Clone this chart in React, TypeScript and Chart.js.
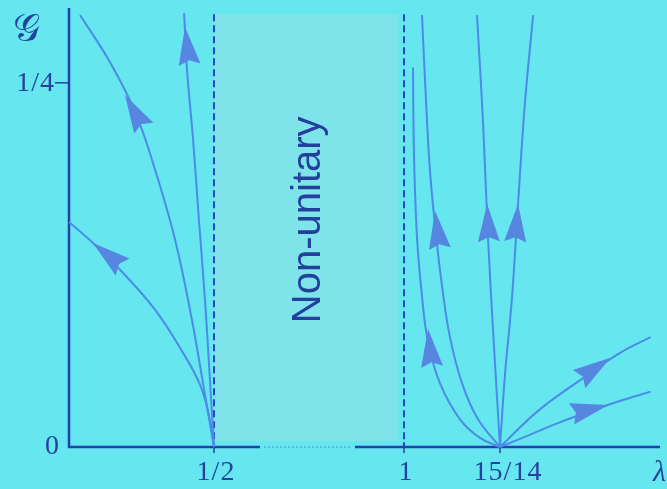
import React, { useEffect, useRef } from "react";
import { Chart, registerables } from "chart.js";
Chart.register(...registerables);

// ---- axis (broken, schematic lambda axis) ----
const lambdaBreaks = [0, 0.5, 1, 15 / 14, 1.19];
const axisUnits = [0, 145, 335, 431, 591];
const xTickValues = [0.5, 1, 15 / 14];
const xTickLabels = ["1/2", "1", "15/14"];
const yTickValues = [0, 0.25];
const yTickLabels = ["0", "1/4"];
const yMax = 0.3;

// ---- flow lines (lambda, G) ----
const curveA_l = [0.038, 0.141, 0.228, 0.297, 0.366, 0.424, 0.469, 0.5];
const curveA_g = [0.2966, 0.2643, 0.23, 0.1902, 0.1421, 0.0872, 0.0357, 0];
const curveB_l = [0.397, 0.407, 0.428, 0.448, 0.469, 0.486, 0.5];
const curveB_g = [0.298, 0.2588, 0.2108, 0.1558, 0.1009, 0.046, 0];
const curveC_l = [0, 0.0897, 0.193, 0.297, 0.383, 0.452, 0.486, 0.5];
const curveC_g = [0.1545, 0.1387, 0.1181, 0.0941, 0.068, 0.0426, 0.0185, 0];
const curveR1_l = [1.0067, 1.0074, 1.0097, 1.0134, 1.0179, 1.0268, 1.0417, 1.0565, 15 / 14];
const curveR1_g = [0.2606, 0.2021, 0.1437, 0.1035, 0.0718, 0.0437, 0.019, 0.0063, 0];
const curveR2_l = [1.0134, 1.0164, 1.0193, 1.0238, 1.0283, 1.0342, 1.0432, 1.0551, 15 / 14];
const curveR2_g = [0.2965, 0.2373, 0.1901, 0.1458, 0.1106, 0.0754, 0.0437, 0.019, 0];
const curveR3_l = [1.0543, 1.0588, 1.0625, 1.067, 15 / 14];
const curveR3_g = [0.2965, 0.2232, 0.1437, 0.0683, 0];
const curveR4_l = [1.096, 1.09, 1.0848, 1.0804, 1.0751, 15 / 14];
const curveR4_g = [0.2965, 0.2373, 0.1669, 0.1035, 0.0493, 0];
const curveR5_l = [15 / 14, 1.1012, 1.1384, 1.1607, 1.183];
const curveR5_g = [0, 0.026, 0.0507, 0.0648, 0.0754];
const curveR6_l = [15 / 14, 1.0938, 1.1138, 1.1384, 1.1607, 1.183];
const curveR6_g = [0, 0.0085, 0.0162, 0.0246, 0.0317, 0.038];

// ---- arrowheads: tip and tail (lambda, G) ----
const arrowTip_l = [0.193, 0.4, 0.0828, 1.0179, 1.0231, 1.0618, 1.0848, 1.1533, 1.1518];
const arrowTip_g = [0.2416, 0.2883, 0.14, 0.081, 0.162, 0.1669, 0.1669, 0.0613, 0.0289];
const arrowTail_l = [0.252, 0.417, 0.176, 1.0208, 1.0268, 1.0632, 1.0826, 1.131, 1.1235];
const arrowTail_g = [0.221, 0.2609, 0.125, 0.0556, 0.1352, 0.1401, 0.1401, 0.0472, 0.0225];

// dashed boundaries and shaded region
const boundaryLambdas = [0.5, 1];
const boundaryTopG = 0.297;
const nonUnitaryRange = [0.5, 0.985];
const axisSolidLeftEnd = 0.621;
const axisDottedRange = [0.632, 0.863];
const axisSolidRightStart = 0.871;

const BG = "#66e7f0";
const LINE = "#4a8ce6";
const ARROW = "#5686e0";
const AXIS = "#2342aa";
const TEXT = "#24429e";
const SERIF = "'Liberation Serif', 'DejaVu Serif', serif";

function lx(l: number): number {
  for (let i = 0; i < lambdaBreaks.length - 1; i++) {
    const a = lambdaBreaks[i], b = lambdaBreaks[i + 1];
    if (l <= b || i === lambdaBreaks.length - 2) {
      return axisUnits[i] + ((l - a) / (b - a)) * (axisUnits[i + 1] - axisUnits[i]);
    }
  }
  return 0;
}

const curves: [number[], number[]][] = [
  [curveA_l, curveA_g],
  [curveB_l, curveB_g],
  [curveC_l, curveC_g],
  [curveR1_l, curveR1_g],
  [curveR2_l, curveR2_g],
  [curveR3_l, curveR3_g],
  [curveR4_l, curveR4_g],
  [curveR5_l, curveR5_g],
  [curveR6_l, curveR6_g],
];

const decor = {
  id: "decor",
  beforeDraw(chart: any) {
    const ctx = chart.ctx;
    ctx.save();
    ctx.fillStyle = BG;
    ctx.fillRect(0, 0, chart.width, chart.height);
    const xs = chart.scales.x, ys = chart.scales.y;
    const X = (l: number) => xs.getPixelForValue(lx(l));
    const Y = (g: number) => ys.getPixelForValue(g);
    ctx.fillStyle = "#7fe3ea";
    ctx.fillRect(X(nonUnitaryRange[0]), Y(boundaryTopG), X(nonUnitaryRange[1]) - X(nonUnitaryRange[0]), Y(0.004) - Y(boundaryTopG));
    ctx.restore();
  },
  beforeDatasetsDraw(chart: any) {
    const ctx = chart.ctx;
    const xs = chart.scales.x, ys = chart.scales.y;
    const X = (l: number) => xs.getPixelForValue(lx(l));
    const Y = (g: number) => ys.getPixelForValue(g);
    ctx.save();
    // dashed boundaries
    ctx.strokeStyle = "#2b45c4";
    ctx.lineWidth = 2;
    ctx.setLineDash([7, 4]);
    boundaryLambdas.forEach((l) => {
      ctx.beginPath();
      ctx.moveTo(X(l), Y(boundaryTopG));
      ctx.lineTo(X(l), Y(0));
      ctx.stroke();
    });
    ctx.setLineDash([]);
    // axes
    ctx.strokeStyle = AXIS;
    ctx.lineWidth = 2.5;
    ctx.beginPath();
    ctx.moveTo(X(0), ys.getPixelForValue(yMax) - 2);
    ctx.lineTo(X(0), Y(0));
    ctx.lineTo(X(axisSolidLeftEnd), Y(0));
    ctx.moveTo(X(axisSolidRightStart), Y(0));
    ctx.lineTo(X(lambdaBreaks[lambdaBreaks.length - 1]), Y(0));
    ctx.stroke();
    ctx.lineWidth = 1;
    ctx.strokeStyle = "#5a7fd8";
    ctx.setLineDash([2, 2]);
    ctx.beginPath();
    ctx.moveTo(X(axisDottedRange[0]), Y(0));
    ctx.lineTo(X(axisDottedRange[1]), Y(0));
    ctx.stroke();
    ctx.setLineDash([]);
    // ticks
    ctx.strokeStyle = AXIS;
    ctx.lineWidth = 1.5;
    xTickValues.forEach((v) => {
      ctx.beginPath();
      ctx.moveTo(X(v), Y(0) - 5);
      ctx.lineTo(X(v), Y(0) + 6);
      ctx.stroke();
    });
    ctx.beginPath();
    ctx.moveTo(X(0) - 14, Y(yTickValues[1]));
    ctx.lineTo(X(0), Y(yTickValues[1]));
    ctx.stroke();
    // tick labels
    ctx.fillStyle = TEXT;
    ctx.font = "28px " + SERIF;
    (ctx as any).letterSpacing = "1px";
    ctx.textBaseline = "middle";
    ctx.textAlign = "center";
    xTickLabels.forEach((t, i) => ctx.fillText(t, X(xTickValues[i]) + (i === 2 ? 8 : 2), Y(0) + 26));
    ctx.textAlign = "right";
    ctx.fillText(yTickLabels[0], X(0) - 9, Y(yTickValues[0]));
    ctx.fillText(yTickLabels[1], X(0) - 14, Y(yTickValues[1]) + 1);
    (ctx as any).letterSpacing = "0px";
    // axis titles
    ctx.textAlign = "left";
    ctx.font = "italic 30px " + SERIF;
    ctx.fillText("λ", X(lambdaBreaks[lambdaBreaks.length - 1]) - 7, Y(0) + 26);
    ctx.font = "38px 'DejaVu Serif', 'Liberation Serif', serif";
    ctx.fillText("𝒢", 13, 31);
    // rotated label
    ctx.save();
    ctx.translate((X(nonUnitaryRange[0]) + X(1)) / 2, Y(0.156));
    ctx.rotate(-Math.PI / 2);
    ctx.textAlign = "center";
    ctx.font = "40px 'Liberation Sans', Arial, sans-serif";
    ctx.fillStyle = "#22409c";
    ctx.fillText("Non-unitary", 0, 0);
    ctx.restore();
    ctx.restore();
  },
  afterDatasetsDraw(chart: any) {
    const ctx = chart.ctx;
    const xs = chart.scales.x, ys = chart.scales.y;
    const X = (l: number) => xs.getPixelForValue(lx(l));
    const Y = (g: number) => ys.getPixelForValue(g);
    ctx.save();
    ctx.fillStyle = ARROW;
    for (let i = 0; i < arrowTip_l.length; i++) {
      const tx = X(arrowTip_l[i]), ty = Y(arrowTip_g[i]);
      const bx0 = X(arrowTail_l[i]), by0 = Y(arrowTail_g[i]);
      let dx = tx - bx0, dy = ty - by0;
      const L0 = Math.hypot(dx, dy);
      dx /= L0; dy /= L0;
      const L = 38;
      const bx = tx - dx * L, by = ty - dy * L;
      const nx = -dy, ny = dx;
      const w = 11;
      ctx.beginPath();
      ctx.moveTo(tx, ty);
      ctx.lineTo(bx + nx * w, by + ny * w);
      ctx.lineTo(bx + dx * L * 0.12, by + dy * L * 0.12);
      ctx.lineTo(bx - nx * w, by - ny * w);
      ctx.closePath();
      ctx.fill();
    }
    ctx.restore();
  },
};

export default function App() {
  const ref = useRef<HTMLCanvasElement>(null);
  useEffect(() => {
    document.body.style.margin = "0";
    document.body.style.background = BG;
    const chart = new Chart(ref.current!, {
      type: "scatter",
      data: {
        datasets: curves.map(([ls, gs]) => ({
          data: ls.map((l, i) => ({ x: lx(l), y: gs[i] })),
          showLine: true,
          borderColor: LINE,
          borderWidth: 2,
          pointRadius: 0,
          tension: 0.4,
          clip: false as any,
        })),
      },
      options: {
        animation: false,
        responsive: false,
        events: [],
        layout: { padding: { left: 69, right: 7, top: 10, bottom: 42 } },
        plugins: { legend: { display: false }, tooltip: { enabled: false } },
        scales: {
          x: { type: "linear", display: false, min: 0, max: axisUnits[axisUnits.length - 1] },
          y: { type: "linear", display: false, min: 0, max: yMax },
        },
      },
      plugins: [decor],
    });
    return () => chart.destroy();
  }, []);
  return <canvas ref={ref} width={667} height={489} />;
}
